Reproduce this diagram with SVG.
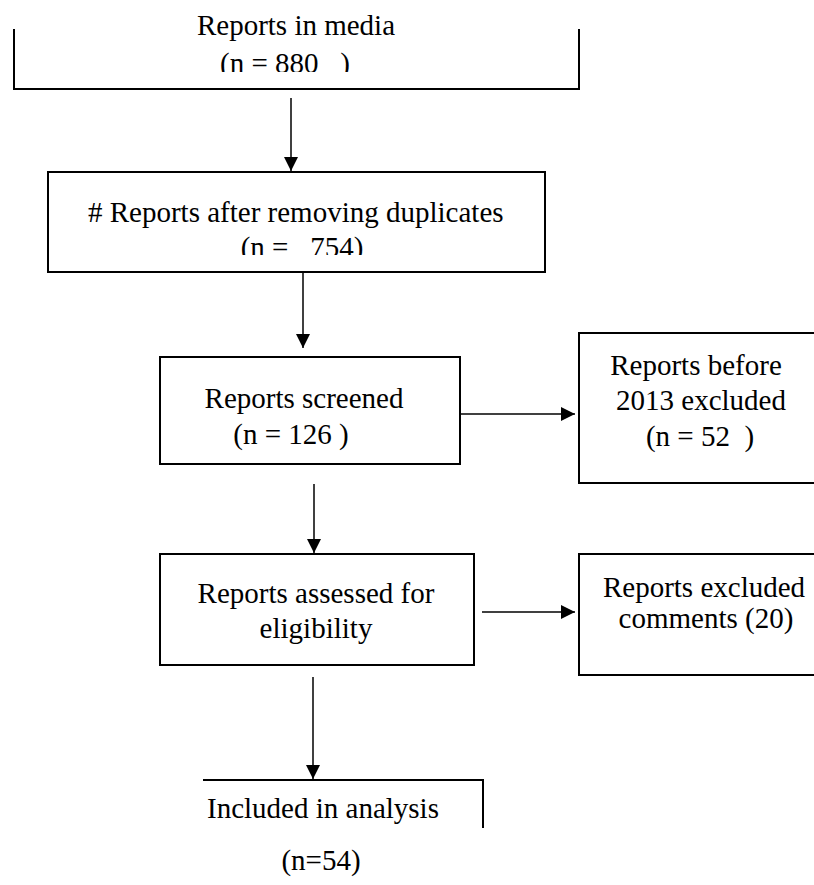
<svg xmlns="http://www.w3.org/2000/svg" width="814" height="885" viewBox="0 0 814 885">
<style>
.b{fill:none;stroke:#000;stroke-width:2}
.c{fill:none;stroke:#000;stroke-width:1.5}
text{font-family:"Liberation Serif","Times New Roman",serif;font-size:29px;fill:#000;text-anchor:middle}
</style>
<defs>
<marker id="ah" markerWidth="14" markerHeight="14" refX="14" refY="7" orient="auto" markerUnits="userSpaceOnUse"><path d="M0,0 L14,7 L0,14 z" fill="#000"/></marker>
<clipPath id="cl1"><rect x="0" y="0" width="814" height="72"/></clipPath>
<clipPath id="cl2"><rect x="0" y="0" width="814" height="255"/></clipPath>
</defs>
<rect width="814" height="885" fill="#fff"/>
<g id="n1">
<path class="b" d="M14,29 V89 H579 V29"/>
<text x="296" y="35">Reports in media</text>
<text x="285" y="73" clip-path="url(#cl1)" xml:space="preserve">(n = 880   )</text>
</g>
<g id="n2">
<rect class="b" x="48" y="172" width="497" height="100"/>
<text x="88" y="222" style="text-anchor:start"># Reports after removing duplicates</text>
<text x="302" y="257" clip-path="url(#cl2)" xml:space="preserve">(n =   754)</text>
</g>
<g id="n3">
<rect class="b" x="160" y="357" width="300" height="107"/>
<text x="304" y="408">Reports screened</text>
<text x="291" y="444" xml:space="preserve">(n = 126 )</text>
</g>
<g id="n4">
<rect class="b" x="579" y="333" width="250" height="150"/>
<text x="696" y="375">Reports before</text>
<text x="701" y="410">2013 excluded</text>
<text x="700" y="446" xml:space="preserve">(n = 52  )</text>
</g>
<g id="n5">
<rect class="b" x="160" y="554" width="314" height="111"/>
<text x="316" y="603">Reports assessed for</text>
<text x="316" y="638">eligibility</text>
</g>
<g id="n6">
<rect class="b" x="579" y="554" width="250" height="121"/>
<text x="704" y="597">Reports excluded</text>
<text x="706" y="628">comments (20)</text>
</g>
<g id="n7">
<path class="b" d="M203,780 H483 V828"/>
<text x="323" y="818">Included in analysis</text>
<text x="321" y="870">(n=54)</text>
</g>
<g id="connectors">
<line class="c" x1="291" y1="98" x2="291" y2="171" marker-end="url(#ah)"/>
<line class="c" x1="303" y1="273" x2="303" y2="348" marker-end="url(#ah)"/>
<line class="c" x1="460" y1="414" x2="575" y2="414" marker-end="url(#ah)"/>
<line class="c" x1="314" y1="484" x2="314" y2="553" marker-end="url(#ah)"/>
<line class="c" x1="482" y1="612" x2="575" y2="612" marker-end="url(#ah)"/>
<line class="c" x1="313" y1="677" x2="313" y2="779" marker-end="url(#ah)"/>
</g>
</svg>
